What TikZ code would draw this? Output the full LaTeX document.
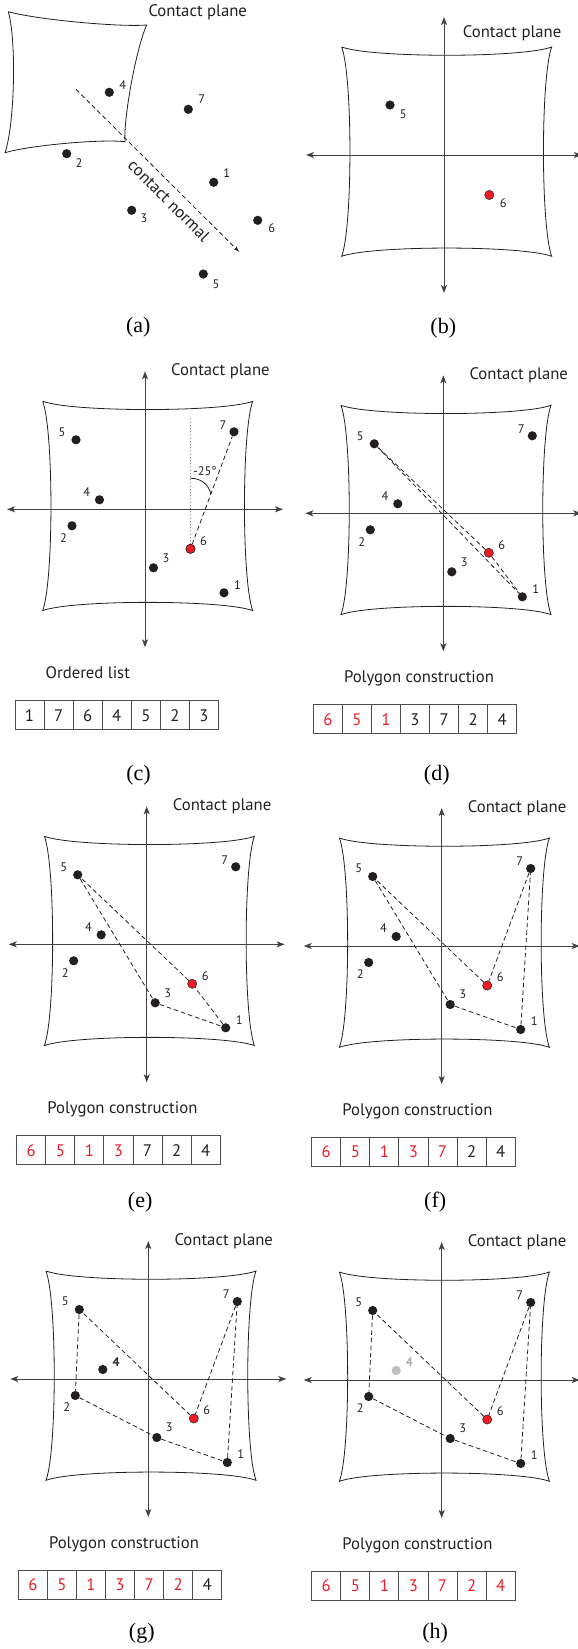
\documentclass[tikz,border=0pt]{standalone}
\usepackage{fontspec}
\newfontfamily\cpSans{PT Sans}
\newfontfamily\cpSerif{Liberation Serif}
\usetikzlibrary{arrows.meta,calc}
\definecolor{ink}{HTML}{231F20}
\definecolor{cpred}{HTML}{ED1C24}
\definecolor{cpgrey}{HTML}{BCBEC0}
\definecolor{cpgreytext}{HTML}{A7A9AC}
\definecolor{boxline}{HTML}{4D4D4D}
\definecolor{dotgrey}{HTML}{8A8A8A}

\tikzset{
  dot/.style={circle, fill=ink, inner sep=0pt, minimum size=9.2pt},
  reddot/.style={circle, fill=cpred, draw=ink, line width=0.5pt, inner sep=0pt, minimum size=9.2pt},
  greydot/.style={circle, fill=cpgrey, inner sep=0pt, minimum size=9.2pt},
  cpnum/.style={inner sep=0pt, text=ink, font=\cpSans\fontsize{12.4}{14}\selectfont},
  cphead/.style={inner sep=0pt, text=ink, anchor=base west, font=\cpSans\fontsize{16.7}{20}\selectfont},
  capt/.style={inner sep=0pt, text=black, font=\cpSerif\fontsize{22}{26}\selectfont},
  cell/.style={draw=boxline, line width=0.9pt, minimum width=29.07pt, minimum height=29pt,
    inner sep=0pt, font=\cpSans\fontsize{16.7}{20}\selectfont},
  planeline/.style={draw=ink, line width=0.8pt},
  axisline/.style={draw=ink!85, line width=0.95pt,
    {Stealth[length=8pt,width=6pt,inset=2pt]}-{Stealth[length=8pt,width=6pt,inset=2pt]}},
  hull/.style={draw=ink, line width=0.8pt, dash pattern=on 4.5pt off 3pt},
  dotline/.style={draw=dotgrey, line width=0.8pt, dash pattern=on 0.8pt off 2.4pt},
}

% square contact plane with inward-bowed edges, centred on the axes
\newcommand\cpPlane{%
  \draw[planeline] (-102.3,-108) .. controls +(30,11) and +(-30,11) .. (107.7,-108)
     .. controls +(-11,30) and +(-11,-30) .. (107.7,101.3)
     .. controls +(-30,-11) and +(30,-11) .. (-102.3,101.3)
     .. controls +(11,-30) and +(11,30) .. (-102.3,-108);
}
% the two in-plane axes
\newcommand\cpAxes[1]{%
  \coordinate (#1-n) at (0,-138);
  \coordinate (#1-s) at (0,138);
  \coordinate (#1-w) at (-138,0);
  \coordinate (#1-e) at (138,0);
  \draw[axisline] (#1-s) -- (#1-n);
  \draw[axisline] (#1-w) -- (#1-e);
}
% projected contact points (all but point 4)
\newcommand\cpDots[1]{%
  \node[dot] (#1-5) at (-69,-69.5) {};
  \node[dot] (#1-7) at (89,-77.5) {};
  \node[dot] (#1-2) at (-73,16.5) {};
  \node[dot] (#1-3) at (8.5,58.5) {};
  \node[dot] (#1-1) at (79,83.5) {};
  \node[reddot] (#1-6) at (45.5,39.5) {};
  \node[cpnum] at ($(#1-5)+(-14,-8)$) {5};
  \node[cpnum] at ($(#1-7)+(-11,-7)$) {7};
  \node[cpnum] at ($(#1-2)+(-8.5,12)$) {2};
  \node[cpnum] at ($(#1-3)+(12.5,-10)$) {3};
  \node[cpnum] at ($(#1-1)+(13.5,-8)$) {1};
  \node[cpnum] at ($(#1-6)+(13,-8)$) {6};
}
% point 4 in its plain form
\newcommand\cpFour[1]{%
  \node[dot] (#1-4) at (-45.5,-9.5) {};
  \node[cpnum] at ($(#1-4)+(-12.7,-8)$) {4};
}
% heading, list title, list cells and caption
\newcommand\cpFrame[4]{% prefix, title, cells, caption y
  \node[cphead] (#1-head) at (26,-133.6) {Contact plane};
  \node[cphead] (#1-title) at (-99.5,169) {#2};
  \foreach \d/\c [count=\i] in {#3} {
    \node[cell, text=\c] (#1-c\i) at ({-130+29.07*(\i-0.5)},206) {\d};
  }
  \node[capt] (#1-cap) at (-6.5,#4) {(#1)};
}

\begin{document}
\begin{tikzpicture}[x=1pt,y=-1pt]
\useasboundingbox (0,0) rectangle (578,1649);

% ---------- (a) points in space and the tilted contact plane ----------
\draw[planeline] (8.3,11.7) .. controls (35.5,19.4) and (118.5,27.3) .. (146.7,25)
  .. controls (136.5,47.2) and (123.4,117.3) .. (125,141.7)
  .. controls (100.5,138.9) and (28.5,145.5) .. (5,152.7)
  .. controls (14.7,124.7) and (16.6,40.1) .. (8.3,11.7);
\node[cphead] (a-head) at (148.3,16.7) {Contact plane};
\coordinate (a-n0) at (76,89.3);
\coordinate (a-n1) at (239,251.7);
\draw[hull, -{Stealth[length=6pt,width=4pt]}] (a-n0) -- (a-n1);
\node[cphead, anchor=center, rotate=-44.9] (a-normal) at (169,200.7) {contact normal};
\node[dot] (a-4) at (109.3,92.3) {};
\node[dot] (a-7) at (188.3,109.3) {};
\node[dot] (a-2) at (66.7,153.7) {};
\node[dot] (a-1) at (213.7,182.3) {};
\node[dot] (a-3) at (131.7,210.3) {};
\node[dot] (a-6) at (257.7,220.3) {};
\node[dot] (a-5) at (203.3,274) {};
\node[cpnum] at (122.7,85) {4};
\node[cpnum] at (201.7,99.3) {7};
\node[cpnum] at (79,163.3) {2};
\node[cpnum] at (226.7,173.3) {1};
\node[cpnum] at (144,218.3) {3};
\node[cpnum] at (271.7,227.7) {6};
\node[cpnum] at (216,284) {5};
\node[capt] (a-cap) at (138.3,327.6) {(a)};

% ---------- (b) extreme points along one axis ----------
\begin{scope}[shift={(444,155)}]
  \cpPlane
  \cpAxes{b}
  \node[cphead] (b-head) at (18.7,-117.3) {Contact plane};
  \node[dot] (b-5) at (-54,-50) {};
  \node[reddot] (b-6) at (45.3,40) {};
  \node[cpnum] at ($(b-5)+(13.3,9)$) {5};
  \node[cpnum] at ($(b-6)+(14,7.7)$) {6};
  \node[capt] (b-cap) at (-0.7,173) {(b)};
\end{scope}

% ---------- (c) angular ordering about point 6 ----------
\begin{scope}[shift={(145,509.3)}]
  \cpPlane
  \cpAxes{c}
  \coordinate (c-vtop) at (45.5,-92.6);
  \node[reddot] (c-6tmp) at (45.5,39.5) {};
  \draw[dotline] (c-6tmp) -- (c-vtop);
  \cpDots{c}
  \cpFour{c}
  \draw[hull] (c-6) -- (c-7);
  \coordinate (c-arc0) at ($(c-6)!0.534!(c-vtop)$);
  \coordinate (c-arc1) at ($(c-6)!0.47!(c-7)$);
  \draw[planeline] (c-arc0) .. controls +(11,0) and +(-2.5,-9) .. (c-arc1);
  \node[cpnum] (c-angle) at (60,-38.3) {-25°};
  \cpFrame{c}{Ordered list}{1/ink,7/ink,6/ink,4/ink,5/ink,2/ink,3/ink}{265.7}
\end{scope}

% ---------- (d) first triangle 6-5-1 ----------
\begin{scope}[shift={(443.3,513.3)}]
  \cpPlane
  \cpAxes{d}
  \cpDots{d}
  \cpFour{d}
  \draw[hull] (d-6) -- (d-5);
  \draw[hull, dash phase=2pt] (d-5) -- (d-1);
  \draw[hull, dash phase=4pt] (d-1) -- (d-6);
  \cpFrame{d}{Polygon construction}{6/cpred,5/cpred,1/cpred,3/ink,7/ink,2/ink,4/ink}{261.7}
\end{scope}

% ---------- (e) point 3 added ----------
\begin{scope}[shift={(146.7,944.3)}]
  \cpPlane
  \cpAxes{e}
  \cpDots{e}
  \cpFour{e}
  \draw[hull] (e-6) -- (e-5) -- (e-3) -- (e-1) -- (e-6);
  \cpFrame{e}{Polygon construction}{6/cpred,5/cpred,1/cpred,3/cpred,7/ink,2/ink,4/ink}{257.4}
\end{scope}

% ---------- (f) point 7 added ----------
\begin{scope}[shift={(441.7,946)}]
  \cpPlane
  \cpAxes{f}
  \cpDots{f}
  \cpFour{f}
  \draw[hull] (f-6) -- (f-5) -- (f-3) -- (f-1) -- (f-7) -- (f-6);
  \cpFrame{f}{Polygon construction}{6/cpred,5/cpred,1/cpred,3/cpred,7/cpred,2/ink,4/ink}{255.7}
\end{scope}

% ---------- (g) point 2 added ----------
\begin{scope}[shift={(148.3,1379)}]
  \cpPlane
  \cpAxes{g}
  \cpDots{g}
  \node[dot] (g-4) at (-45.5,-9.5) {};
  \node[cpnum, font=\cpSans\bfseries\fontsize{12.4}{14}\selectfont] at ($(g-4)+(13.3,-7.7)$) {4};
  \draw[hull] (g-6) -- (g-5) -- (g-2) -- (g-3) -- (g-1) -- (g-7) -- (g-6);
  \cpFrame{g}{Polygon construction}{6/cpred,5/cpred,1/cpred,3/cpred,7/cpred,2/cpred,4/ink}{254.3}
\end{scope}

% ---------- (h) point 4 discarded as interior ----------
\begin{scope}[shift={(441.7,1380)}]
  \cpPlane
  \cpAxes{h}
  \cpDots{h}
  \node[greydot] (h-4) at (-45.5,-9.5) {};
  \node[cpnum, text=cpgreytext, font=\cpSans\bfseries\fontsize{12.4}{14}\selectfont] at ($(h-4)+(13.3,-8.3)$) {4};
  \draw[hull] (h-6) -- (h-5) -- (h-2) -- (h-3) -- (h-1) -- (h-7) -- (h-6);
  \cpFrame{h}{Polygon construction}{6/cpred,5/cpred,1/cpred,3/cpred,7/cpred,2/cpred,4/cpred}{253.3}
\end{scope}
\end{tikzpicture}
\end{document}
